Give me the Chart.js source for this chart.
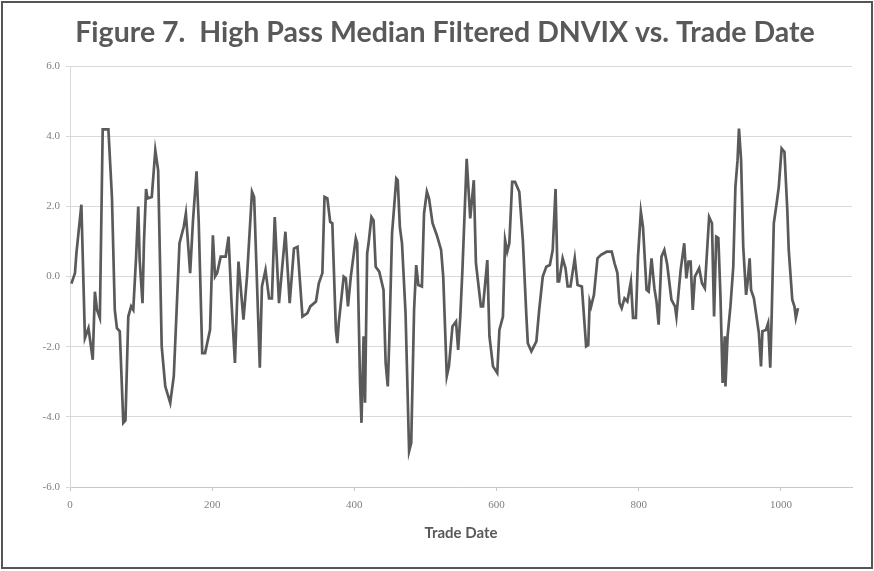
<!DOCTYPE html>
<html>
<head>
<meta charset="utf-8">
<script src="https://cdn.jsdelivr.net/npm/chart.js@4"></script>
<style>
  html, body { margin: 0; padding: 0; background: #fff; }
  #wrap { width: 874px; height: 571px; position: relative; }
</style>
</head>
<body>
<div id="wrap"><canvas id="chart" width="874" height="571"></canvas></div>
<script>
// trade date index and filtered DNVIX value
const tradeDate = [2, 7, 9, 16, 21, 26, 32, 35, 38, 42, 46, 54, 59, 63, 66, 70, 75, 78, 82, 86, 89, 93, 96, 98, 102, 104, 107, 109, 115, 120, 124, 129, 134, 141, 146, 150, 154, 160, 163, 169,
  173, 178, 181, 186, 190, 197, 201, 204, 207, 212, 219, 223, 227, 232, 237, 244, 249, 256, 259, 267, 270, 275, 280, 284, 288, 294, 303, 309, 315, 320, 327,
  334, 338, 346, 350, 355, 358, 362, 366, 369, 374, 376, 378, 385, 388, 391, 395, 402, 404, 408, 410, 413, 415, 418, 420, 424, 427, 430, 435, 441, 444, 447, 449,
  453, 456, 459, 461, 464, 467, 472, 477, 480, 484, 487, 490, 495, 498, 502, 505, 510, 516, 522, 525, 530, 533, 538, 543, 546, 549, 552, 558, 563, 568, 571,
  578, 581, 587, 590, 595, 601, 604, 609, 612, 615, 618, 622, 626, 632, 637, 642, 644, 649, 656, 660, 665, 670, 675, 679, 683, 686, 688, 693, 697, 700, 704,
  710, 714, 720, 724, 726, 729, 731, 733, 737, 742, 747, 755, 762, 766, 770, 773, 776, 780, 784, 789, 792, 796, 799, 803, 806, 811, 814, 818, 822, 825, 828,
  832, 836, 840, 846, 851, 853, 857, 859, 864, 867, 870, 873, 876, 879, 885, 889, 893, 899, 903, 906, 909, 912, 915, 918, 921, 922, 925, 929, 933, 936, 939,
  941, 944, 947, 951, 953, 956, 958, 962, 965, 969, 972, 974, 979, 982, 985, 987, 990, 994, 997, 1001, 1005, 1009, 1011, 1016, 1019, 1021, 1024];
const dnvix = [-0.2, 0.1, 0.66, 2.05, -1.75, -1.47, -2.37, -0.43, -0.95, -1.18, 4.2, 4.2, 2.27, -0.95, -1.47, -1.56, -4.17, -4.1, -1.14, -0.85, -0.95, 0.57, 2.0, 0.47, -0.76, 0.95, 2.5, 2.23, 2.27, 3.6, 3.03, -1.99, -3.13, -3.6, -2.84, -0.95, 0.95, 1.42, 1.8, 0.1,
  1.6, 3.0, 1.6, -2.18, -2.18, -1.52, 1.18, 0, 0.1, 0.57, 0.57, 1.14, -0.66, -2.46, 0.43, -1.23, 0, 2.42, 2.27, -2.6, -0.28, 0.19, -0.62, -0.62, 1.7, -0.76, 1.28, -0.76, 0.8, 0.85, -1.14,
  -1.04, -0.85, -0.71, -0.19, 0.1, 2.27, 2.23, 1.56, 1.52, -1.52, -1.9, -1.33, 0, -0.05, -0.85, 0, 1.09, 0.95, -3.03, -4.17, -1.7, -3.6, 0.66, 0.95, 1.7, 1.6, 0.28, 0.14, -0.38, -2.46, -3.13, -1.9,
  1.23, 2.0, 2.8, 2.75, 1.42, 0.95, -1.04, -4.98, -4.74, -0.95, 0.33, -0.24, -0.28, 1.8, 2.42, 2.23, 1.52, 1.18, 0.76, 0, -2.84, -2.56, -1.42, -1.28, -2.09, -1.14, 0.19, 3.36, 1.66, 2.75, 0.38,
  -0.85, -0.85, 0.47, -1.7, -2.56, -2.75, -1.52, -1.14, 1.04, 0.71, 0.95, 2.7, 2.7, 2.42, 1.04, -1.14, -1.9, -2.13, -1.85, -0.95, 0, 0.28, 0.33, 0.76, 2.5, -0.14, -0.14, 0.52, 0.24, -0.28, -0.28,
  0.52, -0.24, -0.28, -1.42, -1.99, -1.95, -0.71, -0.85, -0.52, 0.52, 0.62, 0.71, 0.71, 0.38, 0.1, -0.76, -0.9, -0.62, -0.71, -0.14, -1.18, -1.18, 0.57, 1.85, 1.42, -0.38, -0.43, 0.52, -0.33, -0.71, -1.37,
  0.57, 0.76, 0.35, -0.66, -0.85, -1.14, -0.24, 0.19, 0.95, -0.05, 0.43, 0.43, -0.95, 0, 0.24, -0.19, -0.33, 1.7, 1.52, -1.14, 1.14, 1.1, -0.57, -3.03, -1.7, -3.13, -1.7, -0.85, 0.28, 2.56, 3.32,
  4.22, 3.32, 0.85, -0.52, -0.19, 0.52, -0.38, -0.62, -1.04, -1.61, -2.56, -1.56, -1.52, -1.33, -2.6, -1.14, 1.52, 2.09, 2.56, 3.65, 3.55, 1.9, 0.76, -0.66, -0.85, -1.18, -0.9];

const xTicks = [0, 200, 400, 600, 800, 1000];
const yTicks = [-6, -4, -2, 0, 2, 4, 6];

const points = tradeDate.map((d, i) => ({ x: d, y: dnvix[i] }));

const frame = {
  id: 'frame',
  afterDraw(chart) {
    const ctx = chart.ctx;
    ctx.save();
    ctx.strokeStyle = '#555';
    ctx.lineWidth = 2;
    ctx.strokeRect(2, 2, 870, 566);
    ctx.restore();
  }
};

new Chart(document.getElementById('chart'), {
  type: 'line',
  data: {
    datasets: [{
      data: points,
      borderColor: '#5a5a5a',
      borderWidth: 2.7,
      pointRadius: 0,
      tension: 0,
      fill: false
    }]
  },
  options: {
    responsive: false,
    animation: false,
    layout: { padding: { left: 38, right: 22, top: 0, bottom: 25 } },
    plugins: {
      legend: { display: false },
      tooltip: { enabled: false },
      title: {
        display: true,
        text: 'Figure 7.  High Pass Median Filtered DNVIX vs. Trade Date',
        color: '#595959',
        font: { family: 'Lato', size: 28.5, weight: 'bold' },
        padding: { top: 16, bottom: 16 }
      }
    },
    scales: {
      x: {
        type: 'linear',
        min: 0,
        max: 1100,
        afterBuildTicks: axis => { axis.ticks = xTicks.map(v => ({ value: v })); },
        afterFit: axis => { axis.height = 59; },
        ticks: {
          color: '#808080',
          font: { family: 'Liberation Sans Narrow', size: 11 },
          padding: 8,
          callback: v => String(v)
        },
        grid: { drawOnChartArea: false, drawTicks: true, tickLength: 4, color: '#c8c8c8' },
        border: { color: '#c8c8c8' },
        title: {
          display: true,
          text: 'Trade Date',
          color: '#595959',
          font: { family: 'Lato', size: 15, weight: 'bold' },
          padding: { top: 6 }
        }
      },
      y: {
        min: -6,
        max: 6,
        afterBuildTicks: axis => { axis.ticks = yTicks.map(v => ({ value: v })); },
        afterFit: axis => { axis.width = 32; },
        ticks: {
          color: '#808080',
          font: { family: 'Liberation Sans Narrow', size: 11 },
          padding: 6,
          callback: v => v.toFixed(1)
        },
        grid: { color: '#d9d9d9', drawTicks: true, tickLength: 4 },
        border: { color: '#d9d9d9' }
      }
    }
  },
  plugins: [frame]
});
</script>
</body>
</html>
